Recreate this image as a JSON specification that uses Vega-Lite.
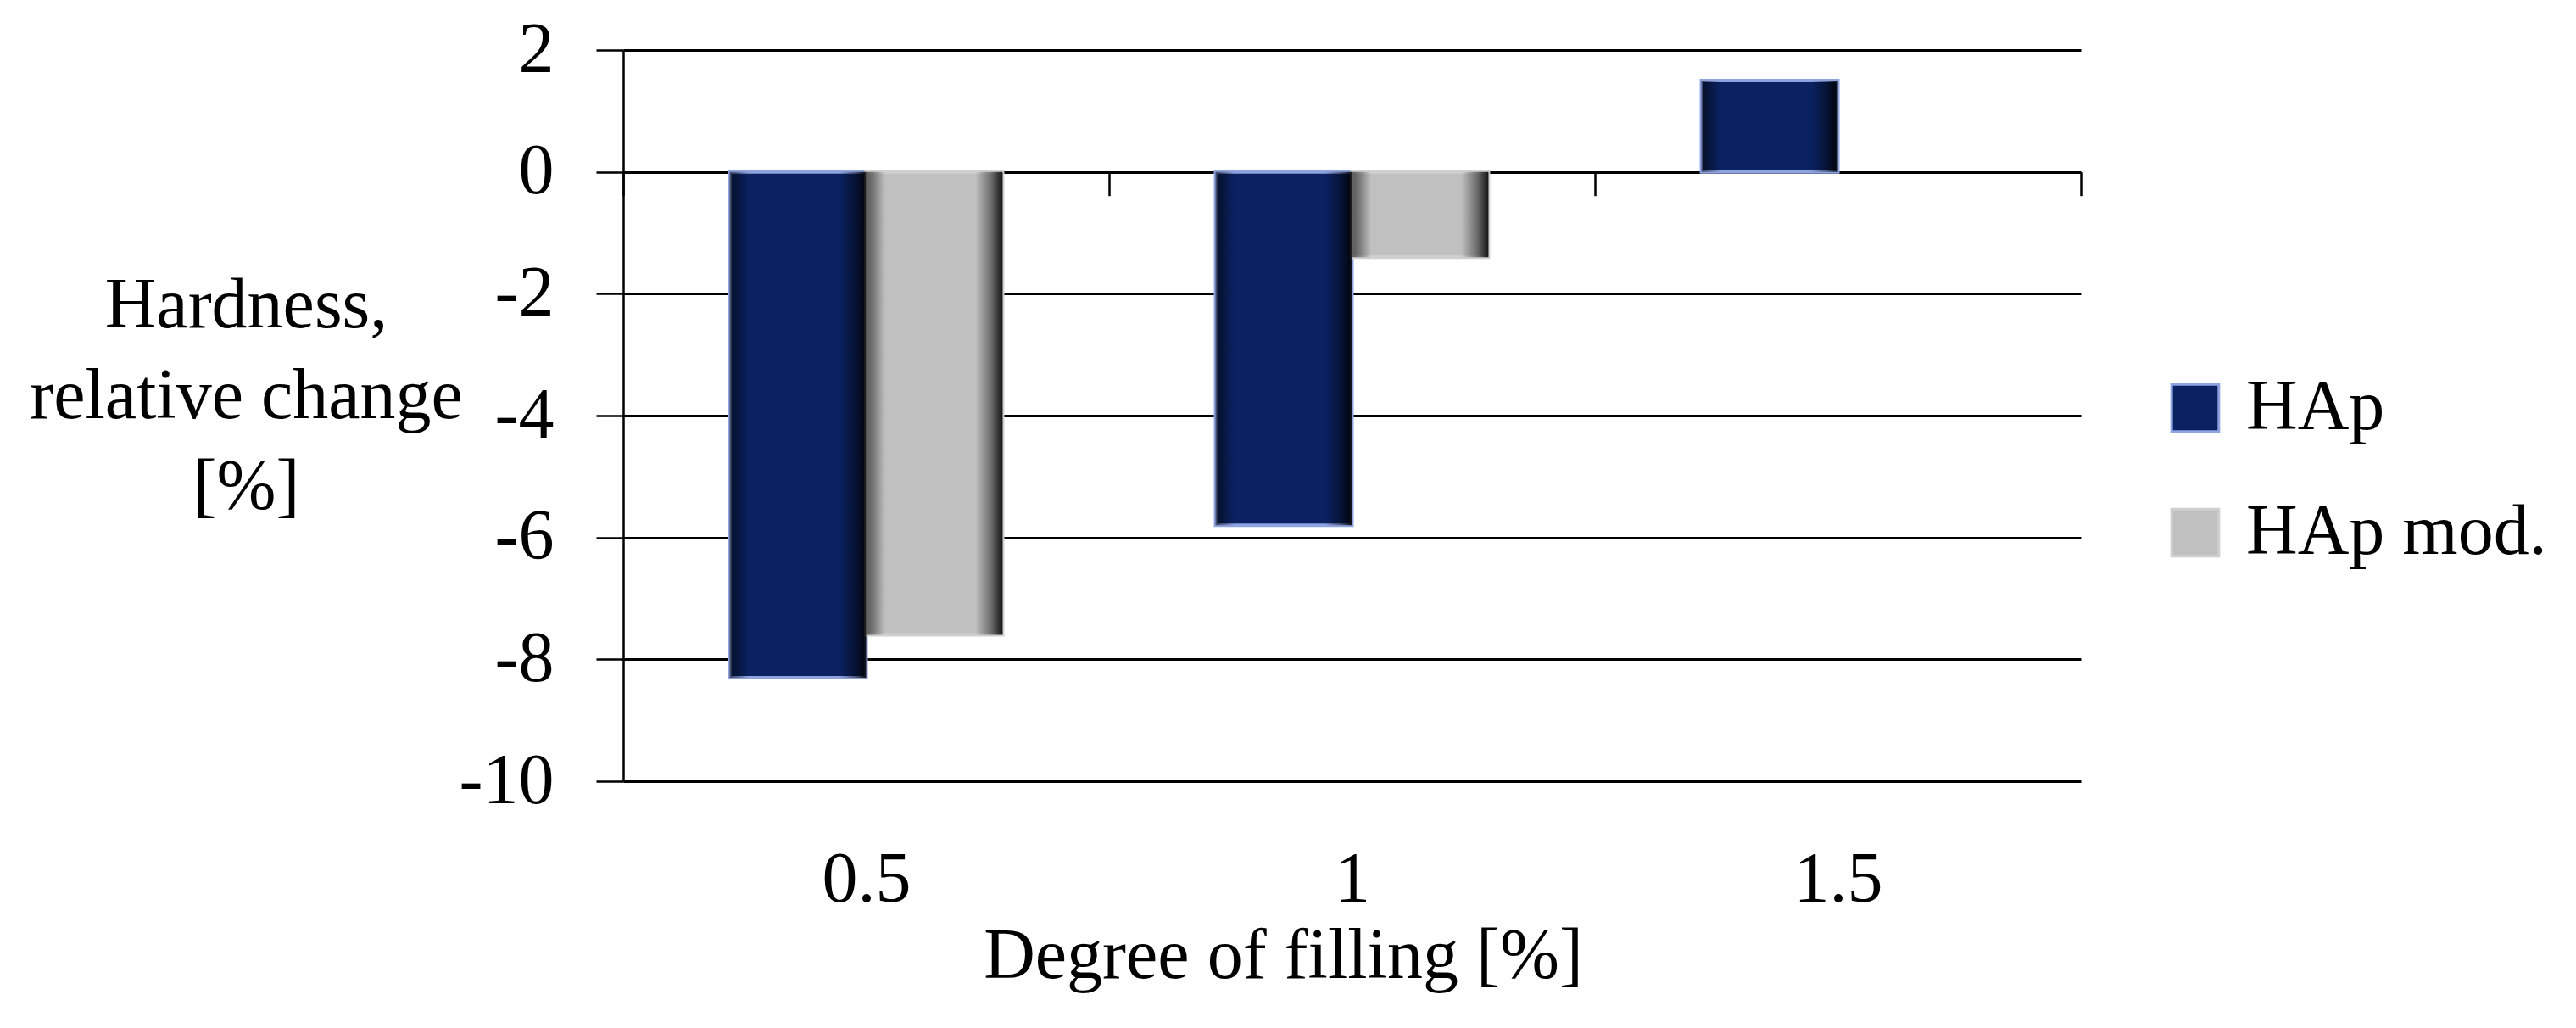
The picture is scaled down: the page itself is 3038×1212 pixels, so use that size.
{
  "$schema": "https://vega.github.io/schema/vega-lite/v6.json",
  "autosize": {"type": "none"},
  "width": 1719,
  "height": 862,
  "padding": {"left": 735, "top": 59, "right": 584, "bottom": 291},
  "background": "#ffffff",
  "data": {
    "values": [
      {"filling": "0.5", "series": "HAp", "value": -8.3},
      {"filling": "0.5", "series": "HAp mod.", "value": -7.6},
      {"filling": "1", "series": "HAp", "value": -5.8},
      {"filling": "1", "series": "HAp mod.", "value": -1.4},
      {"filling": "1.5", "series": "HAp", "value": 1.5}
    ]
  },
  "encoding": {
    "x": {
      "field": "filling",
      "type": "nominal",
      "sort": ["0.5", "1", "1.5"],
      "scale": {"paddingInner": 0, "paddingOuter": 0},
      "axis": {
        "orient": "bottom",
        "offset": -718.3,
        "domain": false,
        "tickBand": "extent",
        "ticks": true,
        "tickSize": 28,
        "tickWidth": 2.5,
        "tickColor": "#000000",
        "labelAngle": 0,
        "labelPadding": 766,
        "labelFontSize": 84,
        "labelFont": "Liberation Serif",
        "labelColor": "#000000",
        "grid": false,
        "title": "Degree of filling [%]",
        "titleFont": "Liberation Serif",
        "titleFontSize": 84,
        "titleFontWeight": "normal",
        "titleColor": "#000000",
        "titleX": 778,
        "titleY": 950,
        "titleAlign": "center",
        "titleBaseline": "alphabetic"
      }
    },
    "xOffset": {
      "field": "series",
      "type": "nominal",
      "scale": {"domain": ["HAp", "HAp mod."], "paddingInner": 0, "paddingOuter": 0.78}
    },
    "y": {
      "field": "value",
      "type": "quantitative",
      "scale": {"domain": [-10, 2], "nice": false, "zero": false},
      "axis": {
        "values": [-10, -8, -6, -4, -2, 0, 2],
        "labelExpr": "toString(datum.value)",
        "grid": true,
        "gridColor": "#000000",
        "gridWidth": 3,
        "gridOpacity": 1,
        "domain": true,
        "domainColor": "#000000",
        "domainWidth": 2.5,
        "ticks": true,
        "tickSize": 32,
        "tickWidth": 2.5,
        "tickColor": "#000000",
        "labelPadding": 50,
        "labelFontSize": 84,
        "labelFont": "Liberation Serif",
        "labelColor": "#000000",
        "title": ["Hardness,", "relative change", "[%]"],
        "titleAngle": 0,
        "titleFont": "Liberation Serif",
        "titleFontSize": 84,
        "titleFontWeight": "normal",
        "titleColor": "#000000",
        "titleAlign": "center",
        "titleBaseline": "alphabetic",
        "titleLineHeight": 107,
        "titleX": -445,
        "titleY": 326
      }
    }
  },
  "layer": [
    {
      "mark": {"type": "bar", "strokeWidth": 4},
      "encoding": {
        "fill": {
          "field": "series",
          "type": "nominal",
          "scale": {"domain": ["HAp", "HAp mod."], "range": ["#0b2262", "#c0c0c0"]},
          "legend": {
            "title": null,
            "orient": "none",
            "legendX": 1812,
            "legendY": 380,
            "symbolType": "square",
            "symbolSize": 3100,
            "symbolStrokeWidth": 3,
            "labelFont": "Liberation Serif",
            "labelFontSize": 84,
            "labelColor": "#000000",
            "labelLimit": 800,
            "labelOffset": 18,
            "rowPadding": 63
          }
        },
        "stroke": {
          "field": "series",
          "type": "nominal",
          "scale": {"domain": ["HAp", "HAp mod."], "range": ["#8fa3e0", "#d0d0d0"]},
          "legend": null
        }
      }
    },
    {
      "mark": {
        "type": "bar",
        "fill": {
          "gradient": "linear",
          "x1": 0, "x2": 1, "y1": 0, "y2": 0,
          "stops": [
            {"offset": 0, "color": "rgba(0,0,0,0.55)"},
            {"offset": 0.06, "color": "rgba(0,0,0,0.35)"},
            {"offset": 0.14, "color": "rgba(0,0,0,0)"},
            {"offset": 0.8, "color": "rgba(0,0,0,0)"},
            {"offset": 0.92, "color": "rgba(0,0,0,0.45)"},
            {"offset": 1, "color": "rgba(0,0,0,0.9)"}
          ]
        }
      },
      "encoding": {}
    }
  ],
  "config": {
    "view": {"stroke": null}
  }
}
